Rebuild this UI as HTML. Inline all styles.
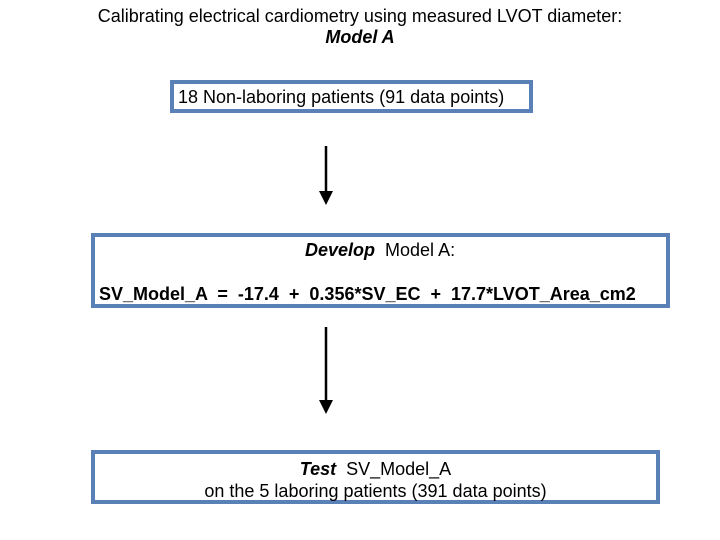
<!DOCTYPE html>
<html><head><style>
body{margin:0;width:720px;height:540px;background:#fff;position:relative;font-family:"Liberation Sans",Arial,sans-serif;color:#000;overflow:hidden}
.t{position:absolute;left:0;width:720px;text-align:center;font-size:18px;line-height:20px}
.b{position:absolute;border:4px solid #5a80b8;box-sizing:border-box;background:#fff;font-size:18px;line-height:20px}
</style></head><body>
<div class="t" style="top:6px">Calibrating electrical cardiometry using measured LVOT diameter:</div>
<div class="t" style="top:27px;font-weight:bold;font-style:italic">Model A</div>
<div class="b" style="left:170px;top:80px;width:363px;height:33px;padding:3px 0 0 4px">18 Non-laboring patients (91 data points)</div>
<svg style="position:absolute;left:0;top:0" width="720" height="540">
<line x1="326" y1="146" x2="326" y2="193" stroke="#000" stroke-width="2.5"/>
<polygon points="319,191 333,191 326,205" fill="#000"/>
<line x1="326" y1="327" x2="326" y2="402" stroke="#000" stroke-width="2.5"/>
<polygon points="319,400 333,400 326,414" fill="#000"/>
</svg>
<div class="b" style="left:91px;top:233px;width:579px;height:75px">
<div style="position:absolute;left:210px;top:3px;white-space:pre"><b><i>Develop</i></b>  Model A:</div>
<div style="position:absolute;left:4px;top:47px;font-weight:bold;white-space:pre">SV_Model_A  =  -17.4  +  0.356*SV_EC  +  17.7*LVOT_Area_cm2</div>
</div>
<div class="b" style="left:91px;top:450px;width:569px;height:54px;text-align:center;padding-top:4px;line-height:22px">
<b><i>Test</i></b>&nbsp; SV_Model_A<br>on the 5 laboring patients (391 data points)</div>
</body></html>
